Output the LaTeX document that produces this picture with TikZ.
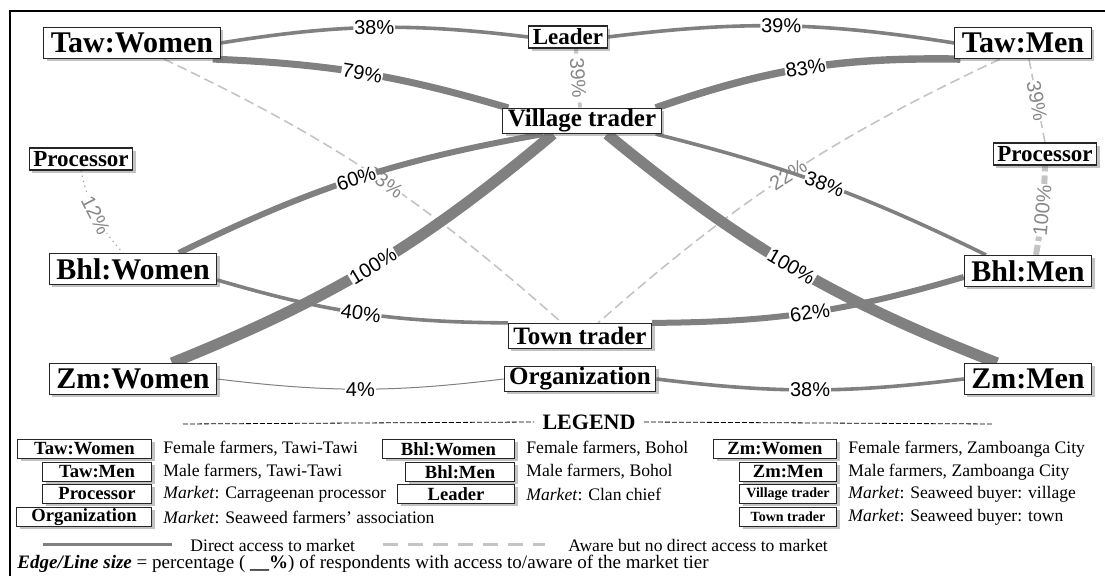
\documentclass[tikz,border=0pt]{standalone}
\usepackage{fontspec}
\setmainfont{Liberation Serif}
\setsansfont{Liberation Sans}
\usepackage{xcolor}
\usepackage{tikz}
\usetikzlibrary{positioning,shadows,backgrounds}

\definecolor{linkgray}{RGB}{128,128,128}
\definecolor{awaregray}{RGB}{196,196,196}
\definecolor{pctgray}{RGB}{135,135,135}

\begin{document}
\begin{tikzpicture}[
    x=0.5pt,y=0.5pt,
    farmer/.style={
      draw=black!85,
      fill=white,
      line width=0.6pt,
      font=\bfseries\fontsize{15}{15}\selectfont,
      inner xsep=3.5pt,
      inner ysep=0pt,
      minimum height=15.5pt,
      drop shadow={shadow xshift=1.5pt,shadow yshift=-1.5pt,fill=black!60,opacity=0.4}
    },
    trader/.style={
      farmer,
      font=\bfseries\fontsize{12.5}{12.5}\selectfont,
      inner xsep=2.5pt,
      minimum height=12.5pt
    },
    tier/.style={
      farmer,
      font=\bfseries\fontsize{11.5}{11.5}\selectfont,
      inner xsep=2pt,
      minimum height=11pt
    },
    direct/.style={draw=linkgray},
    aware/.style={draw=awaregray,dash pattern=on 5pt off 2.5pt},
    pct/.style={
      font=\sffamily\fontsize{10}{10}\selectfont,
      fill=white,
      inner sep=0.4pt,
      sloped
    },
    pctaware/.style={pct,text=pctgray},
    legbox/.style={
      farmer,
      anchor=east,
      font=\bfseries\fontsize{9.3}{9.3}\selectfont,
      minimum height=9.5pt,
      inner xsep=0pt,
      line width=0.5pt
    },
    legtext/.style={font=\fontsize{8.8}{8.8}\selectfont,inner sep=0pt}
    ]
    \useasboundingbox (0,0) rectangle (1105,-576);
    \draw[line width=1pt] (10,-576) -- (10,-11) -- (1105,-11);

    % farmers and market tiers
    \node[farmer] at (132,-43) (tawW) {Taw:Women};
    \node[tier] at (568,-37) (leader) {Leader};
    \node[farmer] at (1023,-43) (tawM) {Taw:Men};
    \node[trader] at (582,-121) (village) {Village trader};
    \node[tier] at (81,-159) (procL) {Processor};
    \node[tier] at (1045,-154) (procR) {Processor};
    \node[farmer] at (133,-269) (bhlW) {Bhl:Women};
    \node[farmer] at (1028,-271) (bhlM) {Bhl:Men};
    \node[trader] at (580,-336) (town) {Town trader};
    \node[farmer] at (133,-379) (zmW) {Zm:Women};
    \node[trader] at (580,-379) (org) {Organization};
    \node[farmer] at (1028,-379) (zmM) {Zm:Men};

    \begin{scope}[on background layer]
    \draw[aware,line width=0.8pt] ([xshift=16pt]tawW.south) to[bend left=8]
      node[pctaware,pos=0.53] {33\%} ([xshift=-9pt]town.north);
    \draw[aware,line width=0.8pt] ([xshift=-11.5pt]tawM.south) to[bend right=8]
      node[pctaware] {22\%} ([xshift=9pt]town.north);

    \draw[direct,line width=1.8pt] (tawW.east) to[bend left=8]
      node[pct] {38\%} (leader.west);
    \draw[direct,line width=1.8pt] (leader.east) to[bend left=8]
      node[pct] {39\%} (tawM.west);
    \draw[direct,line width=3.5pt] ([xshift=-4pt]tawW.south east) to[bend left=7]
      node[pct] {79\%} ([xshift=3pt]village.north west);
    \draw[direct,line width=3.7pt] ([xshift=-3pt]village.north east) to[bend left=10]
      node[pct] {83\%} ([xshift=3pt]tawM.south west);
    \draw[aware,line width=2pt,dash pattern=on 2.5pt off 2pt] ([xshift=4pt]leader.south) --
      node[pctaware] {39\%} ([xshift=-1pt]village.north);
    \draw[aware,line width=0.8pt] ([xshift=3pt]tawM.south) --
      node[pctaware] {39\%} (procR.north);
    \draw[aware,line width=3pt,dash pattern=on 5pt off 2pt] ([xshift=4pt]bhlM.north) to[bend right=4]
      node[pctaware] {100\%} (procR.south);
    \draw[linkgray!70,line width=0.6pt,dotted] (procL.south) to[bend right=15]
      node[pctaware] {12\%} ([xshift=-5pt]bhlW.north);

    \draw[direct,line width=3pt] ([xshift=-19.5pt]village.south) to[bend right=8]
      node[pct] {60\%} ([xshift=23pt]bhlW.north);
    \draw[direct,line width=5.5pt] ([xshift=-14.5pt]village.south) to[bend left=9]
      node[pct] {100\%} ([xshift=19.5pt]zmW.north);
    \draw[direct,line width=1.8pt] ([xshift=-3pt]village.south east) to[bend left=6]
      node[pct] {38\%} ([xshift=-21pt]bhlM.north);
    \draw[direct,line width=5.5pt] ([xshift=12.5pt]village.south) to[bend right=9]
      node[pct] {100\%} ([xshift=-15.5pt]zmM.north);

    \draw[direct,line width=1.8pt] ([yshift=-5.5pt]bhlW.east) to[bend right=8]
      node[pct] {40\%} (town.north west);
    \draw[direct,line width=3pt] (town.north east) to[bend right=8]
      node[pct] {62\%} ([yshift=-3pt]bhlM.west);
    \draw[direct,line width=0.5pt] (zmW.east) to[bend right=7]
      node[pct] {4\%} (org.west);
    \draw[direct,line width=1.8pt] (org.east) to[bend right=7]
      node[pct] {38\%} (zmM.west);
    \end{scope}

    % legend
    \node[font=\bfseries\fontsize{11}{11}\selectfont,inner xsep=4pt] at (589,-422) (legend) {LEGEND};
    \coordinate (legL) at (183,-424);
    \coordinate (legR) at (993,-424);
    \draw[line width=0.4pt,dash pattern=on 2.5pt off 1pt] (legL) -- (legend.west);
    \draw[line width=0.4pt,dash pattern=on 2.5pt off 1pt] (legend.east) -- (legR);

    \node[legbox,minimum width=67pt] at (152,-449) (lgTawW) {Taw:Women};
    \node[legbox,minimum width=54.5pt] at (152,-472) (lgTawM) {Taw:Men};
    \node[legbox,minimum width=54.5pt] at (152,-494) (lgProc) {Processor};
    \node[legbox,minimum width=67.5pt] at (152,-517) (lgOrg) {Organization};
    \node[legbox,minimum width=66pt] at (515,-449) (lgBhlW) {Bhl:Women};
    \node[legbox,minimum width=54.5pt] at (515,-472) (lgBhlM) {Bhl:Men};
    \node[legbox,minimum width=58.5pt] at (515,-494) (lgLeader) {Leader};
    \node[legbox,minimum width=61.5pt] at (837,-449) (lgZmW) {Zm:Women};
    \node[legbox,minimum width=48.5pt] at (837,-472) (lgZmM) {Zm:Men};
    \node[legbox,minimum width=48.5pt,font=\bfseries\fontsize{7}{7}\selectfont] at (837,-494) (lgVillage) {Village trader};
    \node[legbox,minimum width=48.5pt,font=\bfseries\fontsize{7}{7}\selectfont] at (837,-517) (lgTown) {Town trader};

    \node[legtext,right=5.5pt of lgTawW] (dTawW) {Female farmers, Tawi-Tawi};
    \node[legtext,right=5.5pt of lgTawM] (dTawM) {Male farmers, Tawi-Tawi};
    \node[legtext,right=5.5pt of lgProc] (dProc) {\textit{Market}: Carrageenan processor};
    \node[legtext,right=5.5pt of lgOrg] (dOrg) {\textit{Market}: Seaweed farmers' association};
    \node[legtext,right=5.5pt of lgBhlW] (dBhlW) {Female farmers, Bohol};
    \node[legtext,right=5.5pt of lgBhlM] (dBhlM) {Male farmers, Bohol};
    \node[legtext,right=5.5pt of lgLeader] (dLeader) {\textit{Market}: Clan chief};
    \node[legtext,right=5.5pt of lgZmW] (dZmW) {Female farmers, Zamboanga City};
    \node[legtext,right=5.5pt of lgZmM] (dZmM) {Male farmers, Zamboanga City};
    \node[legtext,right=5.5pt of lgVillage] (dVillage) {\textit{Market}: Seaweed buyer: village};
    \node[legtext,right=5.5pt of lgTown] (dTown) {\textit{Market}: Seaweed buyer: town};

    \coordinate (dirA) at (43,-545);
    \coordinate (dirB) at (172,-545);
    \coordinate (awA) at (383,-545);
    \coordinate (awB) at (545,-545);
    \draw[direct,line width=1.5pt] (dirA) -- (dirB);
    \draw[aware,line width=1.5pt,dash pattern=on 7.5pt off 5pt] (awA) -- (awB);
    \node[legtext,right=9pt of dirB] (dDirect) {Direct access to market};
    \node[legtext,right=11.5pt of awB] (dAware) {Aware but no direct access to market};
    \node[legtext,anchor=west,font=\fontsize{9.5}{9.5}\selectfont] at (17,-564) (dSize)
      {\textbf{\textit{Edge/Line size}} = percentage ( \textbf{\_\_\%}) of respondents with access to/aware of the market tier};
\end{tikzpicture}
\end{document}
